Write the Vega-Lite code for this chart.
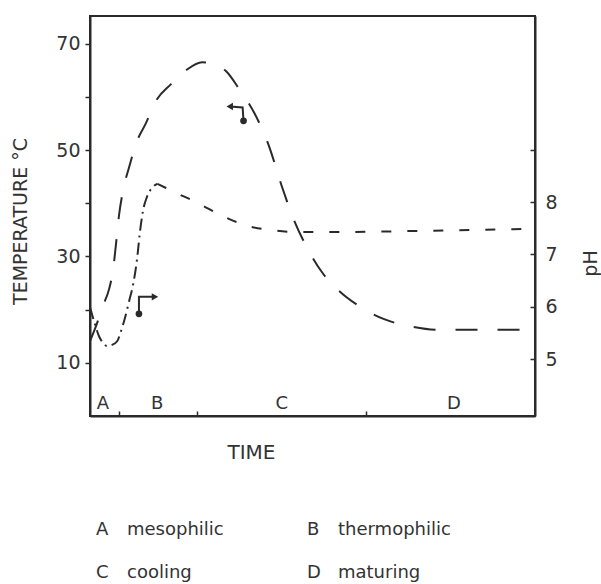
{
  "$schema": "https://vega.github.io/schema/vega-lite/v6.json",
  "padding": {"left": 10, "top": 15, "right": 5, "bottom": 5},
  "background": "white",
  "config": {
    "view": {"stroke": "#2a2a2a", "strokeWidth": 2},
    "font": "DejaVu Sans",
    "axis": {
      "domainColor": "#2a2a2a", "domainWidth": 2, "tickColor": "#2a2a2a", "tickWidth": 1.5,
      "labelColor": "#333333", "titleColor": "#333333", "labelFont": "DejaVu Sans", "titleFont": "DejaVu Sans",
      "titleFontWeight": "normal", "grid": false, "labelFontSize": 19
    }
  },
  "datasets": {
    "temp": [
      {"t": 0, "temp": 14.1}, {"t": 1.35, "temp": 16.9}, {"t": 2.9, "temp": 20.7}, {"t": 4.3, "temp": 23.9},
      {"t": 5.2, "temp": 27.6}, {"t": 5.8, "temp": 32.0}, {"t": 6.5, "temp": 37.6}, {"t": 7.4, "temp": 42.3},
      {"t": 8.8, "temp": 46.8}, {"t": 10.3, "temp": 51.1}, {"t": 12.6, "temp": 55.1}, {"t": 14.8, "temp": 59.2},
      {"t": 18.2, "temp": 62.4}, {"t": 21.6, "temp": 65.0}, {"t": 25.2, "temp": 66.5}, {"t": 27.9, "temp": 66.2},
      {"t": 30.6, "temp": 64.8}, {"t": 33.5, "temp": 61.5}, {"t": 36.9, "temp": 57.0}, {"t": 40.2, "temp": 50.8},
      {"t": 43.1, "temp": 43.2}, {"t": 46.1, "temp": 36.3}, {"t": 49.2, "temp": 31.0}, {"t": 51.9, "temp": 27.3},
      {"t": 56.0, "temp": 23.5}, {"t": 60.4, "temp": 20.7}, {"t": 66.1, "temp": 18.2}, {"t": 71.7, "temp": 16.9},
      {"t": 78.4, "temp": 16.2}, {"t": 87.4, "temp": 16.2}, {"t": 99.8, "temp": 16.2}
    ],
    "ph": [
      {"t": 0, "pH": 5.99, "seg": "rise"}, {"t": 1.1, "pH": 5.67, "seg": "rise"}, {"t": 2.0, "pH": 5.44, "seg": "rise"},
      {"t": 2.9, "pH": 5.31, "seg": "rise"}, {"t": 3.8, "pH": 5.25, "seg": "rise"}, {"t": 4.9, "pH": 5.27, "seg": "rise"},
      {"t": 6.1, "pH": 5.34, "seg": "rise"}, {"t": 7.0, "pH": 5.54, "seg": "rise"}, {"t": 7.9, "pH": 5.80, "seg": "rise"},
      {"t": 8.8, "pH": 6.11, "seg": "rise"}, {"t": 9.7, "pH": 6.43, "seg": "rise"}, {"t": 10.6, "pH": 6.93, "seg": "rise"},
      {"t": 11.2, "pH": 7.41, "seg": "rise"}, {"t": 11.9, "pH": 7.83, "seg": "rise"}, {"t": 12.8, "pH": 8.10, "seg": "rise"},
      {"t": 13.9, "pH": 8.27, "seg": "rise"}, {"t": 15.1, "pH": 8.35, "seg": "rise"},
      {"t": 15.1, "pH": 8.35, "seg": "fall"}, {"t": 17.1, "pH": 8.27, "seg": "fall"}, {"t": 20.0, "pH": 8.15, "seg": "fall"},
      {"t": 22.9, "pH": 8.04, "seg": "fall"}, {"t": 26.7, "pH": 7.87, "seg": "fall"}, {"t": 31.2, "pH": 7.68, "seg": "fall"},
      {"t": 35.7, "pH": 7.54, "seg": "fall"}, {"t": 40.2, "pH": 7.47, "seg": "fall"}, {"t": 47.0, "pH": 7.43, "seg": "fall"},
      {"t": 58.2, "pH": 7.43, "seg": "fall"}, {"t": 73.9, "pH": 7.45, "seg": "fall"}, {"t": 87.4, "pH": 7.47, "seg": "fall"},
      {"t": 99.8, "pH": 7.49, "seg": "fall"}
    ],
    "arrows": [
      {"a": "ph", "o": 1, "t": 11.0, "temp": 19.2}, {"a": "ph", "o": 2, "t": 11.0, "temp": 22.4}, {"a": "ph", "o": 3, "t": 14.6, "temp": 22.4},
      {"a": "T", "o": 1, "t": 34.5, "temp": 55.5}, {"a": "T", "o": 2, "t": 34.3, "temp": 58.0}, {"a": "T", "o": 3, "t": 31.4, "temp": 58.2}
    ],
    "phases": [
      {"t": 2.9, "temp": 2.3, "label": "A"}, {"t": 15.1, "temp": 2.3, "label": "B"},
      {"t": 43.1, "temp": 2.3, "label": "C"}, {"t": 81.8, "temp": 2.3, "label": "D"}
    ],
    "legend": [
      {"col": 6, "row": 1, "letter": "A", "name": "mesophilic"},
      {"col": 217, "row": 1, "letter": "B", "name": "thermophilic"},
      {"col": 6, "row": 2, "letter": "C", "name": "cooling"},
      {"col": 217, "row": 2, "letter": "D", "name": "maturing"}
    ]
  },
  "spacing": 45,
  "vconcat": [
    {
      "width": 445,
      "height": 400,
      "layer": [
        {
          "layer": [
            {
              "data": {"name": "temp"},
              "mark": {"type": "line", "interpolate": "monotone", "strokeDash": [22, 20], "strokeWidth": 2, "color": "#2a2a2a"},
              "encoding": {
                "x": {"field": "t", "type": "quantitative", "scale": {"domain": [0, 100], "nice": false, "zero": false},
                  "axis": {"values": [6.5, 24, 62], "labels": false, "tickSize": -5, "title": "TIME", "titleFontSize": 20, "titleX": 161, "titleY": 26, "titleAlign": "center", "titleBaseline": "top"}},
                "y": {"field": "temp", "type": "quantitative", "scale": {"domain": [0, 75.2], "nice": false, "zero": false},
                  "axis": {"values": [10, 20, 30, 40, 50, 60, 70], "labelExpr": "datum.value % 20 == 10 ? datum.label : ''", "tickSize": 5, "labelPadding": 5,
                    "title": "TEMPERATURE °C", "titleFontSize": 19, "titleX": -70, "titleY": 205, "titleBaseline": "middle", "titleAlign": "center", "titleAngle": -90}}
              }
            },
            {
              "data": {"name": "arrows"},
              "mark": {"type": "line", "strokeWidth": 2, "color": "#2a2a2a"},
              "encoding": {
                "x": {"field": "t", "type": "quantitative"},
                "y": {"field": "temp", "type": "quantitative"},
                "detail": {"field": "a"},
                "order": {"field": "o"}
              }
            },
            {
              "data": {"name": "arrows"},
              "transform": [{"filter": "datum.o == 1"}],
              "mark": {"type": "point", "filled": true, "size": 45, "color": "#2a2a2a", "opacity": 1},
              "encoding": {
                "x": {"field": "t", "type": "quantitative"},
                "y": {"field": "temp", "type": "quantitative"}
              }
            },
            {
              "data": {"name": "arrows"},
              "transform": [{"filter": "datum.o == 3"}],
              "mark": {"type": "point", "filled": true, "size": 55, "color": "#2a2a2a", "opacity": 1},
              "encoding": {
                "x": {"field": "t", "type": "quantitative"},
                "y": {"field": "temp", "type": "quantitative"},
                "shape": {"field": "a", "type": "nominal", "scale": {"domain": ["ph", "T"], "range": ["triangle-right", "triangle-left"]}, "legend": null}
              }
            },
            {
              "data": {"name": "phases"},
              "mark": {"type": "text", "fontSize": 18, "baseline": "middle", "align": "center", "color": "#333333"},
              "encoding": {
                "x": {"field": "t", "type": "quantitative"},
                "y": {"field": "temp", "type": "quantitative"},
                "text": {"field": "label"}
              }
            }
          ]
        },
        {
          "data": {"name": "ph"},
          "mark": {"type": "line", "interpolate": "monotone", "strokeWidth": 2, "color": "#2a2a2a"},
          "encoding": {
            "x": {"field": "t", "type": "quantitative"},
            "y": {"field": "pH", "type": "quantitative", "scale": {"domain": [3.91, 11.56], "nice": false, "zero": false},
              "axis": {"orient": "right", "values": [5, 6, 7, 8, 9], "labelExpr": "datum.value == 9 ? '' : datum.label", "tickSize": -5, "labelPadding": 15,
                "title": "pH", "titleFontSize": 19, "titleAngle": -90, "titleX": 55, "titleY": 247, "titleBaseline": "middle", "titleAlign": "center"}},
            "strokeDash": {"field": "seg", "type": "nominal", "scale": {"domain": ["rise", "fall"], "range": [[12, 5, 2, 5], [10, 16]]}, "legend": null}
          }
        }
      ],
      "resolve": {"scale": {"y": "independent"}}
    },
    {
      "width": 445,
      "height": 86,
      "view": {"stroke": null},
      "data": {"name": "legend"},
      "layer": [
        {
          "mark": {"type": "text", "fontSize": 18, "align": "left", "baseline": "middle", "color": "#333333"},
          "encoding": {
            "x": {"field": "col", "type": "quantitative", "scale": {"domain": [0, 445], "nice": false, "zero": false}, "axis": null},
            "y": {"field": "row", "type": "quantitative", "scale": {"domain": [0.5, 2.5], "reverse": true, "nice": false, "zero": false}, "axis": null},
            "text": {"field": "letter"}
          }
        },
        {
          "mark": {"type": "text", "fontSize": 18, "align": "left", "baseline": "middle", "color": "#333333", "dx": 31},
          "encoding": {
            "x": {"field": "col", "type": "quantitative"},
            "y": {"field": "row", "type": "quantitative"},
            "text": {"field": "name"}
          }
        }
      ]
    }
  ]
}
